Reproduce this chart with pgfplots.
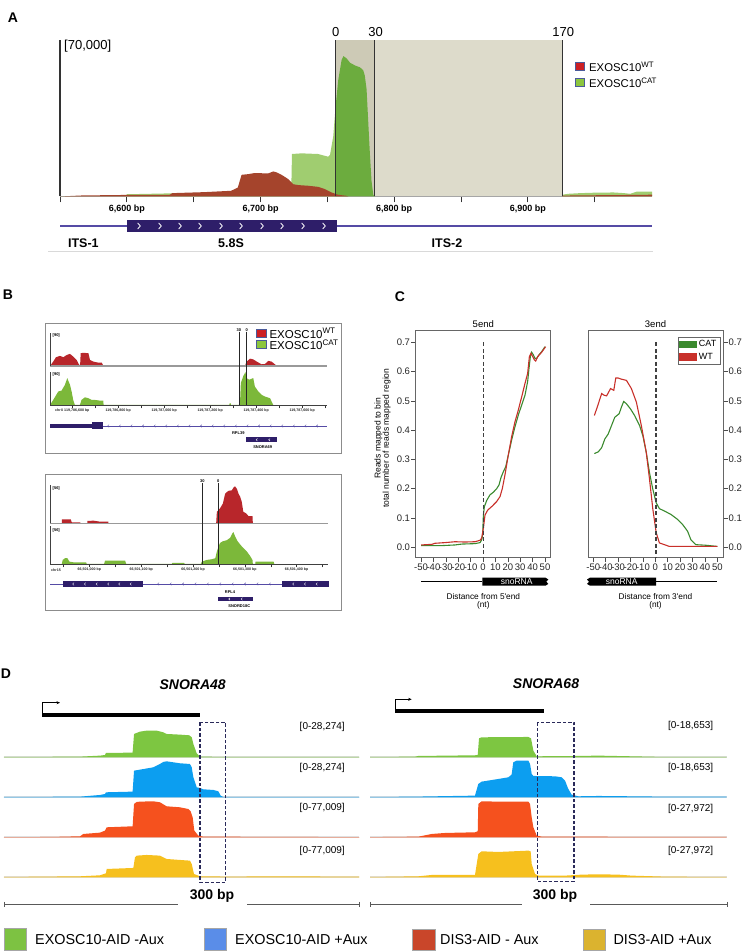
\documentclass[border=0pt]{standalone}
\usepackage{pgfplots}
\pgfplotsset{compat=1.18}
\usepackage{fontspec}
\setmainfont{Liberation Sans}
\usetikzlibrary{arrows.meta}

\definecolor{aRed}{RGB}{165,68,44}
\definecolor{aGreenL}{RGB}{160,205,112}
\definecolor{aGreenD}{RGB}{108,172,62}
\definecolor{shadeA}{RGB}{205,202,182}
\definecolor{shadeB}{RGB}{221,219,203}
\definecolor{geneBlue}{RGB}{46,30,105}
\definecolor{geneLine}{RGB}{85,75,165}
\definecolor{legBorder}{RGB}{74,90,154}
\definecolor{legRed}{RGB}{204,31,36}
\definecolor{legGreen}{RGB}{140,198,62}
\definecolor{bRed}{RGB}{184,38,43}
\definecolor{bGreen}{RGB}{124,184,58}
\definecolor{cGreen}{RGB}{58,138,46}
\definecolor{cRed}{RGB}{200,48,42}
\definecolor{dGreen}{RGB}{125,198,65}
\definecolor{dBlue}{RGB}{12,158,240}
\definecolor{dRed}{RGB}{245,81,30}
\definecolor{dYellow}{RGB}{246,192,30}
\definecolor{dBox}{RGB}{42,42,90}
\definecolor{lGreen}{RGB}{125,194,66}
\definecolor{lBlue}{RGB}{90,141,232}
\definecolor{lRed}{RGB}{201,70,42}
\definecolor{lYellow}{RGB}{219,179,47}

\newcommand{\F}[1]{\fontsize{#1}{#1}\selectfont}
\newcommand{\Y}[1]{952pt-#1pt}

\pgfplotsset{
  trk/.style={scale only axis, ymin=0, clip=false, anchor=south west, hide axis},
  dtrk/.style={trk, xmin=0, xmax=300, ymax=114, height=38pt},
  bx/.style={scale only axis, ymin=0, clip=false, anchor=south west,
    axis x line*=bottom, axis y line=none, ytick=\empty,
    x axis line style={-, black!75, line width=0.6pt},
    tick align=outside, major tick length=3.5pt, xtick style={black!80, line width=0.5pt},
    xticklabel style={font=\bfseries\F{3.6}, text=black!85, inner sep=0.5pt}},
  cax/.style={scale only axis, anchor=south west, width=135pt, height=227.7pt,
    xmin=-54.3, xmax=54.6, ymin=-0.0355, ymax=0.742,
    axis line style={black!60, line width=0.6pt},
    tick align=outside, major tick length=4.5pt, tick style={black!70, line width=0.6pt},
    xtick={-50,-40,-30,-20,-10,0,10,20,30,40,50},
    xticklabels={-50,-40,-30,-20,-10,0,10,20,30,40,50},
    ytick={0,0.1,0.2,0.3,0.4,0.5,0.6,0.7},
    yticklabels={0.0,0.1,0.2,0.3,0.4,0.5,0.6,0.7},
    tick label style={font=\F{9.5}, text=black!85, inner sep=1pt},
    clip=false},
}

\begin{document}
\begin{tikzpicture}
\path[use as bounding box] (0pt,0pt) rectangle (745pt,952pt);

% ================= Panel A =================
\begin{axis}[at={(60pt,\Y{196.5})}, anchor=south west, scale only axis,
  width=592pt, height=156.5pt, xmin=6550, xmax=6992.8, ymin=0, ymax=70000,
  axis x line*=bottom, axis y line=none, ytick=\empty,
  x axis line style={-, draw=black!35, line width=1.3pt},
  xtick={6550,6600,6650,6700,6750,6800,6850,6900,6950},
  xticklabels={{},{6,600 bp},{},{6,700 bp},{},{6,800 bp},{},{6,900 bp},{}},
  tick align=outside, major tick length=6pt,
  xtick style={draw=black!80, line width=1pt},
  xticklabel style={font=\bfseries\F{9}, inner sep=0pt, yshift=-2.5pt},
  clip=false]
\fill[shadeA] (axis cs:6756.1,0) rectangle (axis cs:6785.5,70000);
\fill[shadeB] (axis cs:6785.5,0) rectangle (axis cs:6925.6,70000);
\addplot[draw=none, fill=aGreenL] coordinates {(6550,0) (6599,0) (6600,1000) (6633,1400) (6658,1500) (6678,1800) (6683,2500) (6723,3500) (6723.5,19000) (6730.7,19300) (6743,19000) (6750.6,17800) (6752,18700) (6754.4,27000) (6756.1,40000)} \closedcycle;
\addplot[draw=none, fill=aGreenD] coordinates {(6756.1,40000) (6758.1,52000) (6760.6,61000) (6762,62800) (6764.3,61800) (6767,59800) (6771,58500) (6774.3,57800) (6776.8,56500) (6778,54000) (6779.3,48000) (6780.5,34000) (6781.8,19000) (6783,7000) (6784.3,800) (6785.5,0)} \closedcycle;
\addplot[draw=none, fill=aGreenL] coordinates {(6925.6,750) (6930,1200) (6939,1500) (6950,1700) (6964,1800) (6972,1500) (6976.5,1200) (6981.5,2200) (6992.8,2200)} \closedcycle;
\addplot[draw=none, fill=aRed] coordinates {(6550,0) (6566,450) (6600,700) (6632,750) (6634,1500) (6658,1950) (6678,2550) (6683,4000) (6685.8,9700) (6690.8,10000) (6695.7,10500) (6705.7,10300) (6709.5,11200) (6712,10800) (6715.7,9700) (6720.7,7800) (6724.4,5500) (6728.2,5100) (6735.6,4800) (6743.1,4300) (6748.1,3300) (6753.1,1800) (6758.1,750) (6764.3,300) (6765.6,0)} \closedcycle;
\addplot[draw=none, fill=aRed] coordinates {(6925.6,400) (6940,500) (6960,600) (6980,700) (6992.8,800)} \closedcycle;
\draw[black!80, line width=1.2pt] (axis cs:6550,0) -- (axis cs:6550,70000);
\draw[black!80, line width=1.2pt] (axis cs:6756.1,0) -- (axis cs:6756.1,70000);
\draw[black!80, line width=1.2pt] (axis cs:6785.5,0) -- (axis cs:6785.5,70000);
\draw[black!80, line width=1.2pt] (axis cs:6925.6,0) -- (axis cs:6925.6,70000);
\end{axis}

% ================= Panel B =================
\begin{axis}[trk, at={(50pt,\Y{366})}, width=277.3pt, height=33pt, xmin=503, xmax=1709, ymax=90]
\addplot[draw=none, fill=bRed] coordinates {(503,0)(517,12)(529,24)(546.5,27.5)(561,24)(576,30)(590,33)(604,25.7)(619,16.5)(630,2.8)(634,2.8)(636.5,35)(648,35.8)(670,35)(677,16.5)(691,12)(713,9.2)(728,9.2)(735,0)(1351,0)(1358,12)(1373,20)(1387,18)(1402,12)(1423.5,4.6)(1438,5.5)(1452,13.8)(1467,12)(1481,4.6)(1491,0)} \closedcycle;
\draw[black!40, line width=1.3pt] (axis cs:503,0) -- (axis cs:1709,0);
\draw[black!75, line width=0.6pt] (axis cs:503,0) -- (axis cs:503,90);
\end{axis}

\begin{axis}[bx, at={(50pt,\Y{405})}, width=277.3pt, height=33pt, xmin=503, xmax=1709, ymax=90,
  xtick={600,700,800,900,1000,1100,1200,1300,1400,1500,1600,1700},
  xticklabels={{chrX 119,786,600 bp},{},{119,786,800 bp},{},{119,787,000 bp},{},{119,787,200 bp},{},{119,787,400 bp},{},{119,787,600 bp},{}}]
\addplot[draw=none, fill=bGreen] coordinates {(503,0)(517,13.8)(539,36.7)(553.5,39.5)(568,55)(578,73.4)(590,55)(597,36.7)(604,13.8)(611,0)(633,0)(640,13.8)(655,21)(670,18.4)(684,13.8)(698,13.8)(720,12)(735,12)(736,0)(1283,0)(1284,4.6)(1289,4.6)(1290,0)(1329,0)(1333,59.7)(1343,78)(1353,90)(1358,73.4)(1369,68.9)(1387,73.4)(1394,50.5)(1409,36.7)(1423.5,27.5)(1438,23)(1460,18.4)(1474,0)} \closedcycle;
\draw[black!75, line width=0.6pt] (axis cs:503,0) -- (axis cs:503,90);
\end{axis}

\begin{axis}[trk, at={(50pt,\Y{523.3})}, width=278.3pt, height=38pt, xmin=924, xmax=1461, ymax=56]
\addplot[draw=none, fill=bRed] coordinates {(946.7,0)(946.8,5.8)(964,5.8)(966,1.5)(982,1.5)(983.4,0)(996,0)(996.1,3.4)(1007.7,3.9)(1020.6,2.4)(1036.7,2.4)(1036.8,0)(1244.6,0)(1246,17)(1252,22)(1257.5,29)(1262,43.8)(1268,47.7)(1275,48.7)(1278,52.6)(1281,54.5)(1284.5,51)(1287.6,43.8)(1291,39)(1294,31.7)(1297,17)(1302.5,14.6)(1307,10.7)(1314.7,10.7)(1315.4,0)} \closedcycle;
\draw[black!40, line width=1.3pt] (axis cs:924,0) -- (axis cs:1461,0);
\draw[black!75, line width=0.6pt] (axis cs:924,0) -- (axis cs:924,56);
\end{axis}

\begin{axis}[bx, at={(50pt,\Y{564})}, width=278.3pt, height=38pt, xmin=924, xmax=1461, ymax=56,
  xtick={950,1000,1050,1100,1150,1200,1250,1300,1350,1400,1450},
  xticklabels={{},{66,501,000 bp},{},{66,501,100 bp},{},{66,501,200 bp},{},{66,501,300 bp},{},{66,501,400 bp},{}}]
\addplot[draw=none, fill=bGreen] coordinates {(946.7,0)(948.6,6)(953,8.5)(957.6,8.5)(961.4,3.5)(969,2.5)(993.6,2.5)(995,0)(1028.3,0)(1030.3,5)(1069,5)(1071,0)(1159,0)(1160,1.5)(1183,1.5)(1184,0)(1215,0)(1217,3.5)(1226.6,6)(1236,7)(1243,8.5)(1246,18.5)(1249,25)(1252,31)(1257.5,33.5)(1265,35)(1271.5,38.5)(1276.6,46)(1278,47)(1281,41)(1286,33.5)(1294,26)(1303.7,18.5)(1310,12)(1314.7,6)(1315.4,0)(1320,0)(1320.6,3.5)(1355.4,3.5)(1356.7,0)} \closedcycle;
\draw[black!75, line width=0.6pt] (axis cs:924,0) -- (axis cs:924,56);
\end{axis}

% ================= Panel C =================
\begin{axis}[cax, at={(415.7pt,\Y{557.7})}, xtick pos=left, ytick pos=left]
\addplot[cGreen, line width=1.1pt] coordinates {(-50,0.0057)(-33.3,0.0057)(-22.6,0.008)(-17.2,0.011)(-6.5,0.0125)(-2.4,0.016)(-1.1,0.025)(-0.3,0.042)(0.3,0.11)(1.1,0.139)(3,0.16)(5.6,0.179)(8.3,0.188)(11,0.2)(12.9,0.213)(14.5,0.238)(16.4,0.258)(18.3,0.275)(20.4,0.315)(23.1,0.366)(25.8,0.412)(28.5,0.452)(31.2,0.486)(33.9,0.52)(36,0.566)(37.1,0.611)(38.2,0.651)(39.2,0.666)(40.6,0.657)(41.9,0.645)(43.3,0.645)(44.6,0.654)(47.3,0.668)(50,0.685)};
\addplot[cRed, line width=1.1pt] coordinates {(-50,0.008)(-41.4,0.01)(-38.7,0.0137)(-30.6,0.016)(-22.6,0.019)(-14.5,0.018)(-6.5,0.019)(-2.4,0.024)(-1.1,0.031)(0.3,0.065)(1.6,0.11)(3.8,0.127)(7,0.139)(11,0.156)(13.7,0.173)(15.6,0.201)(17.7,0.247)(20.4,0.315)(23.1,0.378)(25.8,0.429)(28.5,0.469)(31.2,0.514)(33.9,0.56)(36,0.594)(37.4,0.651)(38.7,0.662)(40.1,0.651)(41.4,0.64)(42.5,0.636)(44.1,0.651)(47.3,0.666)(50.5,0.685)};
\draw[black!75, line width=1.3pt, dash pattern=on 4pt off 2.5pt] (axis cs:0.5,0.7) -- (axis cs:0.5,-0.0355);
\end{axis}

\begin{axis}[cax, at={(588pt,\Y{557.7})}, xtick pos=left, ytick pos=right, yticklabel pos=right,
  legend style={at={(0.978,0.9706)}, anchor=north east, draw=black!60, line width=0.5pt,
    font=\F{9}, inner sep=1.5pt, row sep=1pt},
  legend cell align=left,
  legend image code/.code={\fill[#1] (0pt,-3.2pt) rectangle (16.6pt,3.2pt);}]
\addplot[cGreen, line width=1.1pt] coordinates {(-49.2,0.32)(-46,0.326)(-43.3,0.34)(-40.7,0.37)(-38,0.387)(-35.3,0.416)(-32.7,0.444)(-29.2,0.456)(-27.3,0.479)(-25.5,0.498)(-23.3,0.49)(-20.1,0.473)(-16.7,0.45)(-12.7,0.416)(-10,0.38)(-7.3,0.324)(-4.7,0.255)(-2,0.198)(0.7,0.152)(3.3,0.132)(7.3,0.124)(12.7,0.112)(18,0.095)(22,0.078)(26,0.055)(28.7,0.026)(32.7,0.009)(40.7,0.007)(50,0.003)};
\addlegendentry{CAT}
\addplot[cRed, line width=1.1pt] coordinates {(-49.2,0.45)(-46.8,0.479)(-43.3,0.525)(-41.2,0.519)(-39.3,0.517)(-36.1,0.542)(-33.5,0.536)(-31.9,0.578)(-30,0.578)(-27.3,0.574)(-23.3,0.57)(-19.3,0.542)(-15.3,0.496)(-11.3,0.416)(-7.3,0.324)(-4.7,0.233)(-2,0.13)(0.7,0.05)(3.3,0.015)(11.3,0.003)(50,0.003)};
\addlegendentry{WT}
\draw[black!75, line width=1.3pt, dash pattern=on 4pt off 2.5pt] (axis cs:0.5,0.7) -- (axis cs:0.5,-0.0355);
\end{axis}

% ================= Panel D tracks =================
\begin{axis}[dtrk, at={(4pt,\Y{757.3})}, width=355.3pt]
\draw[black!12, line width=1.6pt] (axis cs:0,0) -- (axis cs:300,0);
\addplot[draw=none, fill=dGreen] coordinates {(0,1)(64.2,2)(81.1,5)(85.3,7)(86.1,13)(108.6,14)(109.8,70)(114.8,77)(120.5,80)(128.9,80)(134.5,75)(137.3,70)(148.6,68)(156.5,66)(158.5,60)(159.9,40)(162.7,12)(165.5,2)(193.6,1)(300,1)} \closedcycle;
\end{axis}
\begin{axis}[dtrk, at={(4pt,\Y{797.3})}, width=355.3pt]
\draw[black!12, line width=1.6pt] (axis cs:0,0) -- (axis cs:300,0);
\addplot[draw=none, fill=dBlue] coordinates {(0,1)(64.2,2)(81.1,7)(85.3,10)(86.1,15)(108.6,17)(109.8,80)(114.8,83)(126.1,90)(131.7,100)(134.5,106)(137.3,108)(148.6,102)(157,100)(158.5,90)(159.9,60)(162.7,30)(165.5,28)(168.3,24)(176.8,22)(181,18)(182.9,5)(185.2,1)(300,1)} \closedcycle;
\end{axis}
\begin{axis}[dtrk, at={(4pt,\Y{837.3})}, width=355.3pt]
\draw[black!12, line width=1.6pt] (axis cs:0,0) -- (axis cs:300,0);
\addplot[draw=none, fill=dRed] coordinates {(0,0.5)(38.8,1)(64.2,3)(67,10)(81.1,14)(85.3,20)(86.7,30)(108.6,33)(109.8,100)(112,106)(114.8,107)(126.1,108)(131.7,105)(137.3,93)(148.6,90)(155.6,85)(157.6,78)(159.3,60)(160.7,20)(164.1,5)(168.3,2)(300,0.5)} \closedcycle;
\end{axis}
\begin{axis}[dtrk, at={(4pt,\Y{877.3})}, width=355.3pt]
\draw[black!12, line width=1.6pt] (axis cs:0,0) -- (axis cs:300,0);
\addplot[draw=none, fill=dYellow] coordinates {(0,1)(64.2,3)(81.1,6)(86.1,12)(86.7,25)(109.2,28)(110.6,60)(112,65)(120.5,67)(131.7,65)(137.3,55)(148.6,52)(157,50)(158.5,40)(160.4,10)(165.5,3)(193.6,2)(221.8,3)(249.9,3)(278.1,2)(300,2)} \closedcycle;
\end{axis}

\begin{axis}[dtrk, at={(370pt,\Y{757.3})}, width=356.7pt]
\draw[black!12, line width=1.6pt] (axis cs:0,0) -- (axis cs:300,0);
\addplot[draw=none, fill=dGreen] coordinates {(0,1)(37.8,2)(40.7,4)(88.3,6)(90.6,7)(91.7,57)(93.9,60)(133.2,61)(135.4,57)(137.4,20)(140.2,3)(175.2,4)(192,5)(220.1,3)(248.1,1)(300,1)} \closedcycle;
\end{axis}
\begin{axis}[dtrk, at={(370pt,\Y{797.3})}, width=356.7pt]
\draw[black!12, line width=1.6pt] (axis cs:0,0) -- (axis cs:300,0);
\addplot[draw=none, fill=dBlue] coordinates {(0,1)(37.8,2)(88.3,5)(91.1,40)(93.9,47)(107.9,55)(116.3,60)(119.1,68)(120.5,105)(123.4,110)(133.2,110)(134.6,100)(136,70)(137.4,64)(155.6,63)(161.2,60)(164,50)(166.8,25)(169.6,8)(175.2,3)(192,4)(220.1,3)(248.1,2)(300,2)} \closedcycle;
\end{axis}
\begin{axis}[dtrk, at={(370pt,\Y{837.3})}, width=356.7pt]
\draw[black!12, line width=1.6pt] (axis cs:0,0) -- (axis cs:300,0);
\addplot[draw=none, fill=dRed] coordinates {(0,0.5)(40.7,2)(51.9,10)(63.1,13)(88.3,15)(90.6,18)(91.1,100)(93.9,108)(107.9,107)(133.2,107)(134.6,100)(136,60)(137.4,30)(140.2,5)(144.4,2)(300,1)} \closedcycle;
\end{axis}
\begin{axis}[dtrk, at={(370pt,\Y{877.3})}, width=356.7pt]
\draw[black!12, line width=1.6pt] (axis cs:0,0) -- (axis cs:300,0);
\addplot[draw=none, fill=dYellow] coordinates {(0,1)(40.7,3)(51.9,7)(88.3,7)(91.1,70)(93.9,78)(107.9,76)(133.2,80)(135.1,78)(136,40)(138.8,10)(141.6,5)(164,5)(178,8)(192,9)(208.9,8)(220.1,5)(248.1,2)(300,1)} \closedcycle;
\end{axis}

% ================= Decorations (pixel coordinates) =================
\begin{scope}[x=1pt, y=-1pt, yshift=952pt]
% ---- A ----
\node[font=\bfseries\F{14}] at (13,18) {A};
\node[font=\F{13}] at (335.7,32) {0};
\node[font=\F{13}] at (375.7,32) {30};
\node[font=\F{13}] at (563.3,32) {170};
\node[font=\F{13}, anchor=west, inner sep=0pt] at (64,46) {[70,000]};
\draw[legBorder, fill=legRed, line width=0.8pt] (575,62) rectangle (584,70);
\draw[legBorder, fill=legGreen, line width=0.8pt] (575,78.5) rectangle (584,86.5);
\node[anchor=west, inner sep=0pt, font=\F{11.3}] at (589,66.5) {EXOSC10\textsuperscript{WT}};
\node[anchor=west, inner sep=0pt, font=\F{11.3}] at (589,83) {EXOSC10\textsuperscript{CAT}};
\draw[geneLine, line width=1.2pt] (60,226) -- (652,226);
\draw[geneBlue, fill=geneBlue] (127.3,220.5) rectangle (335.7,231.5);
\foreach \x in {139,160,180,200,221,241,262,282,303,324}
  \draw[white, line width=0.8pt] ({\x-1.3},223) -- ({\x+1.3},226) -- ({\x-1.3},229);
\node[font=\bfseries\F{12.5}] at (83.4,243) {ITS-1};
\node[font=\bfseries\F{12.5}] at (231,243) {5.8S};
\node[font=\bfseries\F{12.5}] at (447,243) {ITS-2};
\draw[black!15, line width=0.8pt] (48,251) -- (653,251);

% ---- B ----
\node[font=\bfseries\F{14}] at (8,295) {B};
\draw[black!45, line width=0.8pt] (45,323) rectangle (341.7,453);
\draw[black!45, line width=0.8pt] (45,474) rectangle (341.7,610);
\draw[black!85, line width=0.7pt] (239.3,331.7) -- (239.3,405) (246.7,331.7) -- (246.7,405);
\node[font=\bfseries\F{4}, inner sep=0.4pt, anchor=south] at (238.8,331.7) {30};
\node[font=\bfseries\F{4}, inner sep=0.4pt, anchor=south] at (246.7,331.7) {0};
\draw[black!85, line width=0.7pt] (202.3,483.3) -- (202.3,564) (218.3,483.3) -- (218.3,564);
\node[font=\bfseries\F{4}, inner sep=0.4pt, anchor=south] at (202.3,483.3) {30};
\node[font=\bfseries\F{4}, inner sep=0.4pt, anchor=south] at (218.3,483.3) {0};
\node[font=\bfseries\F{4}, anchor=west, inner sep=0pt] at (52.5,335.5) {[90]};
\node[font=\bfseries\F{4}, anchor=west, inner sep=0pt] at (52.5,374.5) {[90]};
\node[font=\bfseries\F{4}, anchor=west, inner sep=0pt] at (52.5,488.5) {[56]};
\node[font=\bfseries\F{4}, anchor=west, inner sep=0pt] at (52.5,530.5) {[56]};
\node[font=\bfseries\F{3.6}, text=black!85] at (56,570.5) {chr15};
\draw[legBorder, fill=legRed, line width=0.8pt] (256.7,329) rectangle (266.7,337.3);
\draw[legBorder, fill=legGreen, line width=0.8pt] (256.7,340.7) rectangle (266.7,348.3);
\node[anchor=west, inner sep=0pt, font=\F{11.5}] at (269.3,333.3) {EXOSC10\textsuperscript{WT}};
\node[anchor=west, inner sep=0pt, font=\F{11.5}] at (269.3,345) {EXOSC10\textsuperscript{CAT}};
% gene B1
\draw[geneLine, line width=0.7pt] (50,426) -- (327.3,426);
\fill[geneBlue] (50,423.8) rectangle (92,428.2);
\fill[geneBlue] (92,422.5) rectangle (103.3,429.5);
\foreach \i in {0,...,18}
  \draw[geneLine, line width=0.4pt] ({108.3+11.6*\i+0.7},424.7) -- ({108.3+11.6*\i-0.6},426) -- ({108.3+11.6*\i+0.7},427.3);
\node[font=\bfseries\F{4}] at (238.3,433.3) {RPL39};
\fill[geneBlue] (246,437.3) rectangle (276.7,442.3);
\foreach \x in {256.7,269.3}
  \draw[white, line width=0.4pt] ({\x+0.7},438.6) -- ({\x-0.6},439.8) -- ({\x+0.7},441);
\node[font=\bfseries\F{4}] at (262.7,446.7) {SNORA69};
% gene B2
\draw[geneLine, line width=0.7pt] (50,584) -- (328.3,584);
\fill[geneBlue] (62.7,581) rectangle (142.7,587);
\fill[geneBlue] (281.7,581) rectangle (329.3,587);
\foreach \x in {73.3,85,96.7,108.3,119.3,130.7,293.3,305,316.7}
  \draw[white, line width=0.4pt] ({\x+0.7},582.7) -- ({\x-0.6},584) -- ({\x+0.7},585.3);
\foreach \i in {0,...,9}
  \draw[geneLine, line width=0.4pt] ({158.3+12.4*\i+0.7},582.7) -- ({158.3+12.4*\i-0.6},584) -- ({158.3+12.4*\i+0.7},585.3);
\node[font=\bfseries\F{4}] at (230,592.3) {RPL4};
\fill[geneBlue] (218.3,596.7) rectangle (252.7,601.3);
\foreach \x in {229.3,241.7}
  \draw[white, line width=0.4pt] ({\x+0.7},597.8) -- ({\x-0.6},599) -- ({\x+0.7},600.2);
\node[font=\bfseries\F{4}] at (239.3,606) {SNORD18C};

% ---- C ----
\node[font=\bfseries\F{14}] at (400,297) {C};
\node[font=\F{9.5}] at (483.3,324.3) {5end};
\node[font=\F{9.5}] at (655.5,324.3) {3end};
\node[rotate=90, font=\F{8.5}] at (378.3,438.3) {Reads mapped to bin};
\node[rotate=90, font=\F{8.5}] at (386.7,438.3) {total number of reads mapped region};
\draw[black, line width=1.2pt] (421,581.7) -- (482.3,581.7);
\fill[black] (482.3,577.7) -- (545.5,577.7) -- (548.3,579.5) -- (546.3,581.7) -- (548.3,583.9) -- (545.5,585.7) -- (482.3,585.7) -- cycle;
\node[white, font=\F{8.5}] at (516.7,581.7) {snoRNA};
\draw[black, line width=1.2pt] (656,581.7) -- (716.7,581.7);
\fill[black] (656,577.7) -- (590,577.7) -- (587,579.5) -- (589,581.7) -- (587,583.9) -- (590,585.7) -- (656,585.7) -- cycle;
\node[white, font=\F{8.5}] at (621.7,581.7) {snoRNA};
\node[font=\F{8.3}] at (483.3,596.7) {Distance from 5\textquotesingle end};
\node[font=\F{8.3}] at (483.3,605) {(nt)};
\node[font=\F{8.3}] at (655.5,596.7) {Distance from 3\textquotesingle end};
\node[font=\F{8.3}] at (655.5,605) {(nt)};

% ---- D ----
\node[font=\bfseries\F{14}] at (6,673.3) {D};
\node[font=\bfseries\itshape\F{14}] at (192.7,685) {SNORA48};
\node[font=\bfseries\itshape\F{14}] at (546,684) {SNORA68};
\fill[black] (41.7,712.7) rectangle (200,716.7);
\draw[black, line width=0.7pt, -{Stealth[length=3.5pt, width=3pt]}] (42.2,712.7) -- (42.2,702.7) -- (60,702.7);
\fill[black] (395,708.8) rectangle (544,712.7);
\draw[black, line width=0.7pt, -{Stealth[length=3.5pt, width=3pt]}] (395.5,708.8) -- (395.5,699.3) -- (411.7,699.3);
\node[anchor=east, font=\F{10}] at (348.3,726.7) {[0-28,274]};
\node[anchor=east, font=\F{10}] at (348.3,767.5) {[0-28,274]};
\node[anchor=east, font=\F{10}] at (348.3,808) {[0-77,009]};
\node[anchor=east, font=\F{10}] at (348.3,850.8) {[0-77,009]};
\node[anchor=east, font=\F{10}] at (716.7,726.3) {[0-18,653]};
\node[anchor=east, font=\F{10}] at (716.7,767.5) {[0-18,653]};
\node[anchor=east, font=\F{10}] at (716.7,809) {[0-27,972]};
\node[anchor=east, font=\F{10}] at (716.7,850.8) {[0-27,972]};
\draw[dBox, line width=1.1pt, dash pattern=on 3.5pt off 2pt] (200,722.3) rectangle (225.7,882.3);
\draw[dBox, line width=1.1pt, dash pattern=on 3.5pt off 2pt] (537.7,722.3) rectangle (574,881.7);
\draw[black!65, line width=0.7pt] (4,904.3) -- (178,904.3) (247,904.3) -- (359.3,904.3) (4,902) -- (4,906.6) (359.3,902) -- (359.3,906.6);
\draw[black!65, line width=0.7pt] (370,904.3) -- (521.7,904.3) (590,904.3) -- (727.3,904.3) (370,902) -- (370,906.6) (727.3,902) -- (727.3,906.6);
\node[font=\bfseries\F{14}] at (212,896) {300 bp};
\node[font=\bfseries\F{14}] at (555,896) {300 bp};
\draw[black!35, fill=lGreen, line width=0.5pt] (4,928.3) rectangle (26.7,950);
\node[anchor=west, inner sep=0pt, font=\F{14.4}] at (35,939.5) {EXOSC10-AID -Aux};
\draw[black!35, fill=lBlue, line width=0.5pt] (204,928.3) rectangle (226.7,950);
\node[anchor=west, inner sep=0pt, font=\F{14.4}] at (235,939.5) {EXOSC10-AID +Aux};
\draw[black!35, fill=lRed, line width=0.5pt] (412.7,929.3) rectangle (435,950.7);
\node[anchor=west, inner sep=0pt, font=\F{14.4}] at (440,940) {DIS3-AID - Aux};
\draw[black!35, fill=lYellow, line width=0.5pt] (583.3,929.3) rectangle (605.3,950.7);
\node[anchor=west, inner sep=0pt, font=\F{14.4}] at (613.3,940) {DIS3-AID +Aux};
\end{scope}
\end{tikzpicture}
\end{document}
